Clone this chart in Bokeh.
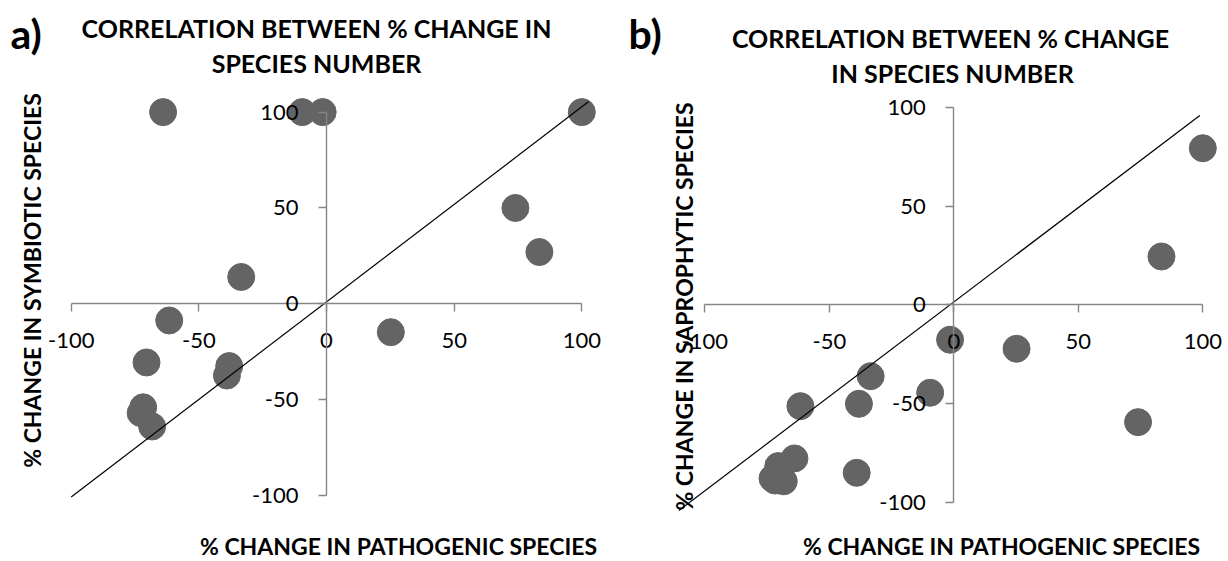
import math
from bokeh.plotting import figure
from bokeh.models import Range1d, LinearAxis, FixedTicker, Label
from bokeh.layouts import row
from bokeh.embed import file_html
from bokeh.resources import INLINE

# ---------------- data ----------------
pathogenic = [-64.0, -9.5, -1.5, 100.0, 74.0, 83.4, -33.4, -61.6, -70.5, -38.1, -39.0, -71.8, -72.8, -68.3, 25.2]
symbiotic = [100.0, 100.0, 100.0, 100.0, 50.0, 27.0, 14.0, -8.7, -30.6, -32.5, -37.4, -54.0, -57.0, -64.0, -14.8]
saprophytic = [-77.9, -44.6, -17.7, 79.4, -59.5, 24.5, -36.2, -51.4, -81.8, -50.2, -85.2, -89.1, -88.0, -89.5, -22.3]

trend_a_x = [-100.0, 102.7]
trend_a_y = [-100.8, 105.5]
trend_b_x = [-110.4, 98.8]
trend_b_y = [-104.3, 96.0]

ticks = [-100, -50, 0, 50, 100]
tick_labels = ["-100", "-50", "0", "50", "100"]

H = 561
DOT = "#646464"
AX = "#868686"
FONT = "Lato"


def panel(width, xr, yr, xs, ys, tx, ty, letter, letter_x, title_lines, ytitle, ytitle_pos, xtitle_pos):
    p = figure(width=width, height=H, x_range=Range1d(*xr), y_range=Range1d(*yr),
               output_backend="svg", toolbar_location=None, title=None,
               x_axis_location=None, y_axis_location=None, min_border=0)
    p.outline_line_color = None
    p.background_fill_color = "white"
    p.border_fill_color = "white"
    for g in p.grid:
        g.visible = False

    for dim, loc in ((0, "below"), (1, "left")):
        ax = LinearAxis(fixed_location=0, bounds=(-100, 100), ticker=FixedTicker(ticks=ticks))
        ax.major_label_overrides = {t: s for t, s in zip(ticks, tick_labels)}
        ax.axis_line_color = AX
        ax.axis_line_width = 1.4
        ax.major_tick_line_color = AX
        ax.major_tick_line_width = 1.4
        ax.major_tick_out = 8
        ax.major_tick_in = 0
        ax.minor_tick_line_color = None
        ax.major_label_text_font = FONT
        ax.major_label_text_font_size = "22px"
        ax.major_label_text_color = "black"
        ax.major_label_standoff = 21 if dim == 0 else 20
        p.add_layout(ax, loc)

    p.scatter(xs, ys, size=27, fill_color=DOT, line_color=DOT)
    p.line(tx, ty, line_color="black", line_width=1.2)

    p.add_layout(Label(x=letter_x, y=H - 33, x_units="screen", y_units="screen", text=letter,
                       text_font=FONT, text_font_style="bold", text_font_size="41px",
                       text_align="left", text_baseline="middle", text_color="black"))
    for (cx, cy, txt) in title_lines:
        p.add_layout(Label(x=cx, y=H - cy, x_units="screen", y_units="screen", text=txt,
                           text_font=FONT, text_font_style="bold", text_font_size="25px",
                           text_align="center", text_baseline="middle", text_color="black"))
    p.add_layout(Label(x=ytitle_pos[0], y=H - ytitle_pos[1], x_units="screen", y_units="screen",
                       text=ytitle, angle=math.pi / 2,
                       text_font=FONT, text_font_style="bold", text_font_size="23px",
                       text_align="center", text_baseline="middle", text_color="black"))
    p.add_layout(Label(x=xtitle_pos[0], y=H - xtitle_pos[1], x_units="screen", y_units="screen",
                       text="% CHANGE IN PATHOGENIC SPECIES",
                       text_font=FONT, text_font_style="bold", text_font_size="23px",
                       text_align="center", text_baseline="middle", text_color="black"))
    return p


pa = panel(618, (-127.69, 114.38), (-134.43, 158.22), pathogenic, symbiotic, trend_a_x, trend_a_y,
           "a)", 10,
           [(316, 27, "CORRELATION BETWEEN % CHANGE IN"), (316, 62, "SPECIES NUMBER")],
           "% CHANGE IN SYMBIOTIC SPECIES", (31, 280), (398, 545))

pb = panel(610, (-134.66, 110.32), (-130.17, 154.31), pathogenic, saprophytic, trend_b_x, trend_b_y,
           "b)", 10,
           [(332, 37, "CORRELATION BETWEEN % CHANGE"), (334, 72, "IN SPECIES NUMBER")],
           "% CHANGE IN SAPROPHYTIC SPECIES", (65, 306), (383, 545))

layout = row(pa, pb)
open("out.html", "w").write(file_html(layout, INLINE))
